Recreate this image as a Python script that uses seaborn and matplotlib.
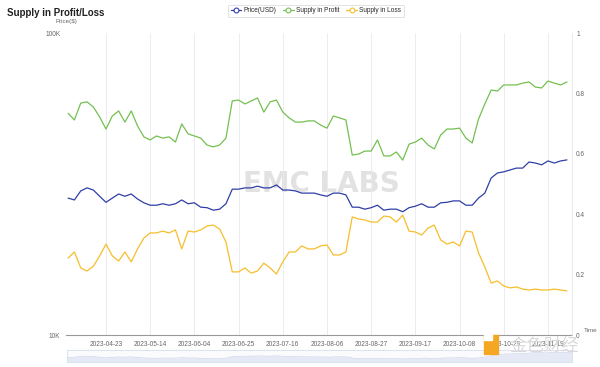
#!/usr/bin/env python
# -*- coding: utf-8 -*-
import numpy as np
import pandas as pd
import matplotlib.pyplot as plt
import matplotlib.dates as mdates
import matplotlib.ticker as ticker
from matplotlib.lines import Line2D
from matplotlib.patches import Rectangle
import seaborn as sns


# data, one point every 3 days from 2023-04-05
dates = pd.date_range('2023-04-05', periods=80, freq='3D')

price_k = [28.4, 28.0, 30.0, 30.7, 30.2, 28.8, 27.5, 28.4, 29.3, 28.8,
           29.3, 28.2, 27.4, 26.9, 26.9, 27.2, 26.9, 27.2, 28.0, 27.2,
           27.4, 26.5, 26.4, 25.9, 26.1, 27.2, 30.4, 30.4, 30.7, 30.7,
           31.1, 30.7, 30.7, 31.4, 30.2, 30.2, 30.0, 29.5, 29.5, 29.5,
           29.1, 28.8, 29.5, 29.5, 29.1, 26.5, 26.5, 26.1, 26.4, 26.9,
           25.9, 26.1, 26.1, 25.6, 26.4, 26.7, 27.2, 26.5, 26.5, 27.4,
           27.5, 27.8, 27.8, 26.9, 26.9, 28.4, 29.5, 33.1, 34.4, 34.7,
           35.2, 35.7, 35.7, 37.4, 37.1, 36.6, 37.7, 37.1, 37.7, 38.0]

supply_profit = [0.734, 0.712, 0.768, 0.772, 0.755, 0.722, 0.682, 0.725, 0.742, 0.705,
                 0.742, 0.692, 0.656, 0.646, 0.659, 0.652, 0.656, 0.639, 0.699, 0.666,
                 0.659, 0.652, 0.629, 0.623, 0.629, 0.652, 0.775, 0.778, 0.765, 0.775,
                 0.785, 0.738, 0.772, 0.778, 0.738, 0.719, 0.705, 0.705, 0.709, 0.709,
                 0.695, 0.685, 0.725, 0.719, 0.712, 0.596, 0.599, 0.609, 0.609, 0.646,
                 0.593, 0.593, 0.606, 0.579, 0.632, 0.639, 0.652, 0.629, 0.616, 0.662,
                 0.682, 0.682, 0.685, 0.652, 0.636, 0.715, 0.765, 0.811, 0.808, 0.828,
                 0.828, 0.828, 0.834, 0.838, 0.821, 0.818, 0.841, 0.834, 0.828, 0.838]

supply_loss = [0.255, 0.275, 0.222, 0.212, 0.228, 0.262, 0.301, 0.262, 0.245, 0.275,
               0.242, 0.285, 0.321, 0.338, 0.338, 0.344, 0.338, 0.348, 0.285, 0.344,
               0.341, 0.348, 0.361, 0.364, 0.351, 0.308, 0.209, 0.209, 0.222, 0.205,
               0.212, 0.238, 0.222, 0.202, 0.242, 0.275, 0.275, 0.295, 0.285, 0.285,
               0.295, 0.298, 0.265, 0.265, 0.275, 0.391, 0.384, 0.381, 0.374, 0.374,
               0.394, 0.391, 0.374, 0.397, 0.344, 0.341, 0.331, 0.354, 0.364, 0.315,
               0.301, 0.308, 0.295, 0.344, 0.341, 0.272, 0.225, 0.172, 0.179, 0.162,
               0.156, 0.159, 0.152, 0.149, 0.152, 0.149, 0.149, 0.152, 0.149, 0.146]

tick_dates = pd.date_range('2023-04-23', '2023-11-19', freq='21D')
ratio_ticks = [0, 0.2, 0.4, 0.6, 0.8, 1]
ratio_labels = ['0', '0.2', '0.4', '0.6', '0.8', '1']
series_names = ['Price(USD)', 'Supply in Profit', 'Supply in Loss']

BLUE = '#2f3fa6'
GREEN = '#74c050'
YELLOW = '#f6be2c'

df = pd.DataFrame({'date': dates,
                   'price': np.array(price_k) * 1000,
                   'profit': supply_profit,
                   'loss': supply_loss})

sns.set_style('white')
plt.rcParams['font.family'] = ['Liberation Sans', 'DejaVu Sans']

fig = plt.figure(figsize=(6, 3.67), dpi=100)
ax = fig.add_axes([66 / 600, 1 - 335 / 367, 506 / 600, 302 / 367])
ax2 = ax.twinx()

# price on log axis (left)
sns.lineplot(data=df, x='date', y='price', ax=ax, color=BLUE, lw=0.9)
ax.set_yscale('log')
ax.set_ylim(1e4, 1e5)
ax.set_yticks([1e4, 1e5])
ax.set_yticklabels(['10K', '100K'])
ax.yaxis.set_minor_locator(ticker.NullLocator())

# supply ratios (right)
sns.lineplot(data=df, x='date', y='profit', ax=ax2, color=GREEN, lw=0.9)
sns.lineplot(data=df, x='date', y='loss', ax=ax2, color=YELLOW, lw=0.9)
ax2.set_ylim(0, 1)
ax2.set_yticks(ratio_ticks)
ax2.set_yticklabels(ratio_labels)

ax.set_xlim(pd.Timestamp('2023-04-04'), pd.Timestamp('2023-11-30 10:00'))
ax.set_xticks(tick_dates)
ax.xaxis.set_major_formatter(mdates.DateFormatter('%Y-%m-%d'))
ax.grid(axis='x', color='#e9e9ee', lw=0.6)
ax.grid(axis='y', visible=False)

for a in (ax, ax2):
    a.set_xlabel('')
    a.set_ylabel('')
    for s in a.spines.values():
        s.set_visible(False)
ax.spines['bottom'].set_visible(True)
ax.spines['bottom'].set_color('#999999')
ax.spines['bottom'].set_linewidth(0.8)
ax2.spines['right'].set_visible(True)
ax2.spines['right'].set_color('#e6e6ea')
ax2.spines['right'].set_linewidth(0.6)

ax.tick_params(axis='x', labelsize=4.7, colors='#666666', length=2, width=0.6, pad=2)
ax.tick_params(axis='y', labelsize=4.7, colors='#666666', length=0, pad=4)
ax2.tick_params(axis='y', labelsize=4.7, colors='#666666', length=0, pad=3)
ax.tick_params(axis='x', color='#999999')

# watermark
ax.text(0.505, 0.5, 'EMC LABS', transform=ax.transAxes, ha='center', va='center',
        fontsize=20, fontweight='bold', color='#e2e2e2', family='DejaVu Sans', zorder=0.5)

# titles and axis names
fig.text(7 / 600, 1 - 13 / 367, 'Supply in Profit/Loss', fontsize=7, fontweight='bold',
         va='center', color='#222222')
fig.text(66 / 600, 1 - 22 / 367, 'Price($)', fontsize=4.5, ha='center', va='center', color='#666666')
fig.text(584 / 600, 1 - 331 / 367, 'Time', fontsize=4.5, ha='left', va='center', color='#666666')

# legend
handles = [Line2D([0], [0], color=c, lw=0.9, marker='o', markersize=3.5,
                  markerfacecolor='white', markeredgewidth=0.8)
           for c in (BLUE, GREEN, YELLOW)]
leg = fig.legend(handles, series_names, loc='center', bbox_to_anchor=(316 / 600, 1 - 11 / 367),
                 ncol=3, fontsize=4.7, frameon=True, handlelength=1.6, columnspacing=1.0,
                 handletextpad=0.4, borderpad=0.45)
leg.get_frame().set_edgecolor('#cccccc')
leg.get_frame().set_linewidth(0.5)

# data zoom slider with data shadow
axs = fig.add_axes([67 / 600, 1 - 362 / 367, 505 / 600, 12 / 367])
axs.fill_between(df['date'], df['price'], 20000, color='#e4e9f5', lw=0)
axs.plot(df['date'], df['price'], color='#cdd6ee', lw=0.5)
axs.set_xlim(dates[0], dates[-1])
axs.set_ylim(20000, 42000)
axs.set_xticks([])
axs.set_yticks([])
axs.set_facecolor('#fbfbfd')
for s in axs.spines.values():
    s.set_color('#d8deee')
    s.set_linewidth(0.6)

# site watermark at bottom right
fig.patches.append(Rectangle((484 / 600, 1 - 354 / 367), 14 / 600, 19 / 367,
                             transform=fig.transFigure, color='#f5a623', zorder=5))
fig.patches.append(Rectangle((484 / 600, 1 - 340 / 367), 8 / 600, 6 / 367,
                             transform=fig.transFigure, color='white', zorder=6))
fig.text(544 / 600, 1 - 346 / 367, '金色财经', fontsize=12.5, ha='center', va='center',
         color='#d9d9d9', family=['Noto Sans CJK SC', 'DejaVu Sans'], zorder=7)

plt.savefig('out.png', dpi=100)
